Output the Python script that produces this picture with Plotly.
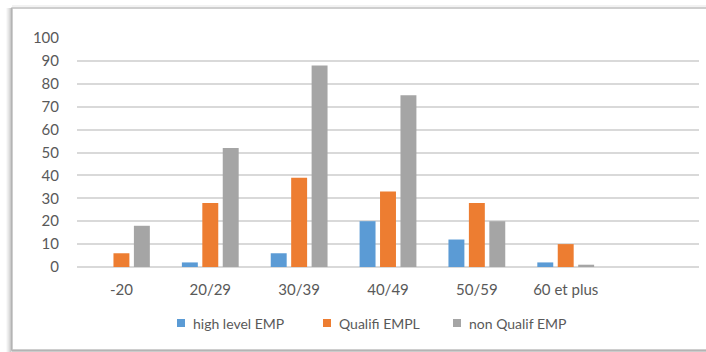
import plotly.graph_objects as go

# Age groups and head counts per employee category
age_groups = ["-20", "20/29", "30/39", "40/49", "50/59", "60 et plus"]
series_names = ["high level EMP", "Qualifi EMPL", "non Qualif EMP"]
high_level = [0, 2, 6, 20, 12, 2]
qualifi = [6, 28, 39, 33, 28, 10]
non_qualif = [18, 52, 88, 75, 20, 1]
y_ticks = [0, 10, 20, 30, 40, 50, 60, 70, 80, 90, 100]

colors = ["#5B9BD5", "#ED7D31", "#A5A5A5"]
text_color = "#595959"
font_family = "Lato, 'Open Sans', sans-serif"

W, H = 706, 352
L, R, T, B = 77, 7, 38, 85
pw, ph = W - L - R, H - T - B


def px_x(x):
    return (x - L) / pw


def px_y(y):
    return (H - B - y) / ph


fig = go.Figure()
for name, vals, col in zip(series_names, [high_level, qualifi, non_qualif], colors):
    fig.add_trace(go.Bar(x=age_groups, y=vals, name=name, marker_color=col,
                         marker_line_width=0, showlegend=False))

shapes = []
# chart frame with a soft drop shadow on the left and bottom
for i, op in enumerate([0.05, 0.08, 0.12, 0.18, 0.25]):
    off = 5 - i
    shapes.append(dict(type="line", xref="paper", yref="paper",
                       x0=px_x(12 - off), x1=px_x(12 - off), y0=px_y(8), y1=px_y(352),
                       line=dict(color=f"rgba(0,0,0,{op})", width=1)))
    shapes.append(dict(type="line", xref="paper", yref="paper",
                       x0=px_x(12), x1=px_x(712), y0=px_y(350 + off), y1=px_y(350 + off),
                       line=dict(color=f"rgba(0,0,0,{op})", width=1)))
shapes.append(dict(type="rect", xref="paper", yref="paper",
                   x0=px_x(12), x1=px_x(712), y0=px_y(350), y1=px_y(8),
                   line=dict(color="#BFBFBF", width=1.5), fillcolor="rgba(0,0,0,0)",
                   layer="below"))
shapes.append(dict(type="line", xref="paper", yref="paper",
                   x0=px_x(12), x1=px_x(712), y0=px_y(6), y1=px_y(6),
                   line=dict(color="rgba(0,0,0,0.05)", width=2)))

# legend drawn as swatches with labels below the plot
legend_left = [177, 323, 453]
annotations = []
for name, col, lx in zip(series_names, colors, legend_left):
    shapes.append(dict(type="rect", xref="paper", yref="paper",
                       x0=px_x(lx), x1=px_x(lx + 8), y0=px_y(327), y1=px_y(319),
                       line=dict(width=0), fillcolor=col))
    annotations.append(dict(xref="paper", yref="paper", x=px_x(lx + 14), y=px_y(323),
                            xanchor="left", yanchor="middle", showarrow=False,
                            text=name, font=dict(family=font_family, size=14, color=text_color)))

fig.update_layout(
    width=W, height=H,
    margin=dict(l=L, r=R, t=T, b=B, pad=0),
    paper_bgcolor="white", plot_bgcolor="white",
    barmode="group", bargap=0.31, bargroupgap=0.22,
    font=dict(family=font_family, size=14, color=text_color),
    shapes=shapes, annotations=annotations,
    xaxis=dict(type="category", range=[-0.5, 6.5], showgrid=False,
               showline=False, ticks="", ticklabelstandoff=12,
               tickfont=dict(size=15, color=text_color)),
    yaxis=dict(range=[0, 100], tickvals=y_ticks, showgrid=True,
               gridcolor="#D9D9D9", gridwidth=1.5, zeroline=True,
               zerolinecolor="#D9D9D9", zerolinewidth=1.5, showline=False,
               ticks="", ticklabelstandoff=17,
               tickfont=dict(size=15, color=text_color)),
)

fig.write_html("out.html")
